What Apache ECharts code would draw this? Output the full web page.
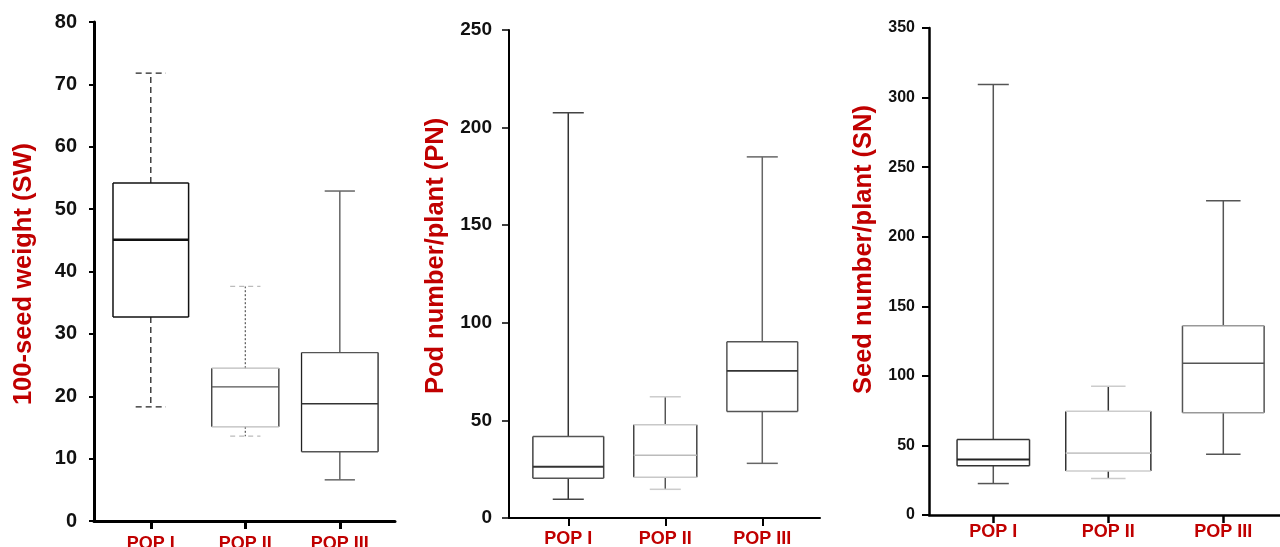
<!DOCTYPE html>
<html>
<head>
<meta charset="utf-8">
<script src="https://cdn.jsdelivr.net/npm/echarts@6/dist/echarts.min.js"></script>
<style>
html,body{margin:0;padding:0;background:#fff;}
#chart{width:1280px;height:547px;}
</style>
</head>
<body>
<div id="chart"></div>
<script>
// ---------- DATA ----------
const categories = ['POP I', 'POP II', 'POP III'];
// [min whisker, Q1, median, Q3, max whisker]
const swStats = [
  [18.3, 32.7, 45.1, 54.2, 71.8],
  [13.6, 15.1, 21.5, 24.5, 37.6],
  [6.6, 11.1, 18.8, 27.0, 52.9]
];
const pnStats = [
  [9.6, 20.4, 26.3, 41.8, 207.6],
  [14.7, 20.9, 32.2, 47.8, 62.1],
  [28.0, 54.6, 75.4, 90.3, 185.0]
];
const snStats = [
  [22.6, 35.4, 39.9, 54.2, 309.4],
  [26.3, 31.6, 44.4, 74.5, 92.6],
  [43.6, 73.5, 109.0, 136.0, 225.8]
];
const axisTitles = ['100-seed weight (SW)', 'Pod number/plant (PN)', 'Seed number/plant (SN)'];
const yMax = [80, 250, 350];
const yStep = [10, 50, 50];

// ---------- STYLES ----------
const RED = '#c00000';
const FONT = 'Liberation Sans, Arial, sans-serif';
function st(color, w, dash) { return { stroke: color, lineWidth: w, lineDash: dash || null, fill: null }; }
// per panel, per category: box width (axis units), cap width, and line styles
const boxStyles = [
  [
    { bw: 0.80, cw: 0.32, side: st('#111', 1.5), tb: st('#111', 1.5), med: st('#111', 2.5), wh: st('#222', 1.3, [6, 4]), cap: st('#222', 1.3, [6, 4]) },
    { bw: 0.71, cw: 0.32, side: st('#333', 1.3), tb: st('#bbb', 1.3), med: st('#555', 1.3), wh: st('#555', 1.2, [2, 2]), cap: st('#bbb', 1.3, [5, 4]) },
    { bw: 0.81, cw: 0.32, side: st('#222', 1.3), tb: st('#555', 1.3), med: st('#333', 1.5), wh: st('#666', 1.5), cap: st('#666', 1.5) }
  ],
  [
    { bw: 0.73, cw: 0.32, side: st('#444', 1.5), tb: st('#555', 1.5), med: st('#333', 2), wh: st('#333', 1.5), cap: st('#444', 1.5) },
    { bw: 0.65, cw: 0.32, side: st('#444', 1.5), tb: st('#c8c8c8', 1.5), med: st('#bbb', 1.5), wh: st('#555', 1.5), cap: st('#ccc', 1.5) },
    { bw: 0.73, cw: 0.32, side: st('#555', 1.5), tb: st('#555', 1.5), med: st('#333', 1.8), wh: st('#666', 1.5), cap: st('#666', 1.5) }
  ],
  [
    { bw: 0.63, cw: 0.27, side: st('#333', 1.5), tb: st('#333', 1.5), med: st('#222', 2), wh: st('#555', 1.5), cap: st('#555', 1.5) },
    { bw: 0.74, cw: 0.30, side: st('#333', 1.5), tb: st('#ccc', 1.5), med: st('#c8c8c8', 1.8), wh: st('#333', 1.5), cap: st('#ccc', 1.5) },
    { bw: 0.71, cw: 0.30, side: st('#555', 1.5), tb: st('#999', 1.5), med: st('#555', 1.5), wh: st('#555', 1.5), cap: st('#555', 1.5) }
  ]
];

const gridsCfg = [
  { left: 94, top: 22, width: 301, bottom: 26, xmin: 0.399, xmax: 3.584, axisW: 3, yFont: 20, yMargin: 17, yTick: 5, nameGap: 57, namePad: [0, 5, 0, 0], xMargin: 14 },
  { left: 509, top: 30, width: 311, bottom: 29, xmin: 0.389, xmax: 3.595, axisW: 2, yFont: 19, yMargin: 17, yTick: 7, nameGap: 60, namePad: [0, 0, 0, 36], xMargin: 12 },
  { left: 929, top: 28, width: 351, bottom: 32, xmin: 0.441, xmax: 3.493, axisW: 2.5, yFont: 16, yMargin: 14, yTick: 7, nameGap: 52, namePad: [0, 0, 0, 44], xMargin: 8 }
];

const allStats = [swStats, pnStats, snStats];

function makeRender(panel) {
  return function (params, api) {
    const s = boxStyles[panel][params.dataIndex];
    const x = api.value(0);
    const lo = api.value(1), q1 = api.value(2), md = api.value(3), q3 = api.value(4), hi = api.value(5);
    const unit = api.size([1, 0])[0];
    const cx = api.coord([x, md])[0];
    const y = v => api.coord([x, v])[1];
    const hb = s.bw * unit / 2, hc = s.cw * unit / 2;
    const L = (x1, y1, x2, y2, style) => ({ type: 'line', shape: { x1, y1, x2, y2 }, style: Object.assign({}, style) });
    return {
      type: 'group',
      children: [
        L(cx, y(q3), cx, y(hi), s.wh),
        L(cx, y(q1), cx, y(lo), s.wh),
        L(cx - hc, y(hi), cx + hc, y(hi), s.cap),
        L(cx - hc, y(lo), cx + hc, y(lo), s.cap),
        L(cx - hb, y(q1), cx - hb, y(q3), s.side),
        L(cx + hb, y(q1), cx + hb, y(q3), s.side),
        L(cx - hb, y(q3), cx + hb, y(q3), s.tb),
        L(cx - hb, y(q1), cx + hb, y(q1), s.tb),
        L(cx - hb, y(md), cx + hb, y(md), s.med)
      ]
    };
  };
}

const grid = [], xAxis = [], yAxis = [], series = [];
gridsCfg.forEach((g, i) => {
  grid.push({ left: g.left, top: g.top, width: g.width, bottom: g.bottom, containLabel: false, outerBoundsMode: 'none' });
  xAxis.push({
    type: 'value', gridIndex: i, min: g.xmin, max: g.xmax,
    axisLine: { show: true, onZero: false, lineStyle: { color: '#000', width: g.axisW } },
    axisTick: { show: true, inside: false, length: 8, customValues: [1, 2, 3], lineStyle: { color: '#000', width: g.axisW } },
    axisLabel: {
      show: true, customValues: [1, 2, 3], margin: g.xMargin,
      formatter: v => categories[Math.round(v) - 1] || '',
      color: RED, fontWeight: 'bold', fontSize: 18, fontFamily: FONT
    },
    splitLine: { show: false }
  });
  yAxis.push({
    type: 'value', gridIndex: i, min: 0, max: yMax[i], interval: yStep[i],
    name: axisTitles[i], nameLocation: 'middle', nameGap: g.nameGap,
    nameTextStyle: { color: RED, fontSize: 25.5, fontWeight: 'bold', fontFamily: FONT, padding: g.namePad },
    axisLine: { show: true, lineStyle: { color: '#000', width: g.axisW } },
    axisTick: { show: true, length: g.yTick, lineStyle: { color: '#000', width: g.axisW > 2 ? 2 : 1.5 } },
    axisLabel: { color: '#111', fontSize: g.yFont, fontWeight: 'bold', fontFamily: FONT, margin: g.yMargin },
    splitLine: { show: false }
  });
  series.push({
    type: 'custom', xAxisIndex: i, yAxisIndex: i,
    renderItem: makeRender(i),
    encode: { x: 0, y: [1, 2, 3, 4, 5] },
    data: allStats[i].map((s, k) => [k + 1].concat(s)),
    silent: true
  });
});

const chart = echarts.init(document.getElementById('chart'), null, { renderer: 'canvas' });
chart.setOption({ animation: false, backgroundColor: '#fff', grid, xAxis, yAxis, series });
</script>
</body>
</html>
